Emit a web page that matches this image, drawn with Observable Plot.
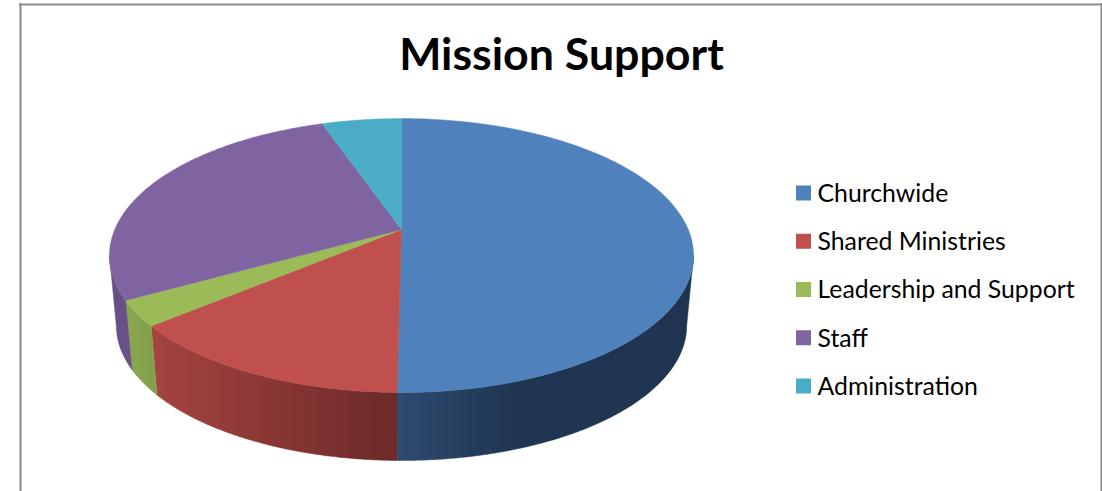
<!DOCTYPE html>
<html><head><meta charset="utf-8">
<style>html,body{margin:0;padding:0;background:#fff;overflow:hidden}svg{display:block}</style>
<script src="https://cdn.jsdelivr.net/npm/d3@7"></script>
<script src="https://cdn.jsdelivr.net/npm/@observablehq/plot@0.6"></script>
</head><body><div id="chart"></div>
<script>
const chartTitle = "Mission Support";
const categories = ["Churchwide", "Shared Ministries", "Leadership and Support", "Staff", "Administration"];
const shares = [50.2, 13.7, 3.0, 27.8, 5.3];
const colors = ["#4f81bd", "#c0504d", "#9bbb59", "#8064a2", "#4bacc6"];
const wallStops = [
  [["0", "#2e4b70"], ["0.4", "#1f3551"], ["1", "#1f3450"]],
  [["0", "#a5433f"], ["1", "#6c2a28"]],
  [["0", "#8aa650"], ["1", "#82a04b"]],
  [["0", "#654f85"], ["1", "#6a5289"]],
  [["0", "#3a8aa0"], ["1", "#3a8aa0"]]
];

// Perspective disc: top and bottom faces
const cx = 401, topFace = {y0: 229, A: 132, B: 286.7}, bottomFace = {y0: 299.5, A: 130, B: 280}, k = 0.19;
const project = (theta, f) => {
  const u = Math.sin(theta), v = -Math.cos(theta), w = 1 - k * v;
  return {x: cx + f.B * u / w, y: f.y0 + f.A * v / w};
};
// The side wall is visible between the disc's two widest points
const wallStart = Math.acos(-k), wallEnd = 2 * Math.PI - wallStart;
const total = d3.sum(shares);
let acc = 0;
const slices = categories.map((name, i) => {
  const a0 = acc / total * 2 * Math.PI;
  acc += shares[i];
  const a1 = acc / total * 2 * Math.PI;
  const sweep = (s, e) => d3.range(0, 121).map(j => s + (e - s) * j / 120);
  const apex = {x: cx, y: topFace.y0};
  const face = [apex, ...sweep(a0, a1).map(t => project(t, topFace)), apex].map(p => ({...p, name}));
  const w0 = Math.max(a0, wallStart), w1 = Math.min(a1, wallEnd);
  const wallAngles = w1 > w0 ? sweep(w0, w1) : [];
  const rim = wallAngles.map(t => project(t, topFace));
  const low = wallAngles.map(t => project(t, bottomFace)).reverse();
  const wall = rim.length ? [...rim, ...low, rim[0]] : [];
  return {name, i, face, wall};
});

const defs = () => {
  const ns = "http://www.w3.org/2000/svg";
  const g = document.createElementNS(ns, "defs");
  wallStops.forEach((stops, i) => {
    const lg = document.createElementNS(ns, "linearGradient");
    lg.setAttribute("id", "wall" + i);
    stops.forEach(([o, c]) => {
      const s = document.createElementNS(ns, "stop");
      s.setAttribute("offset", o); s.setAttribute("stop-color", c);
      lg.appendChild(s);
    });
    g.appendChild(lg);
  });
  return g;
};

const legendY = i => 193.5 + i * 48.25;
const font = "Lato, 'Open Sans', sans-serif";

const plot = Plot.plot({
  width: 1102, height: 491, margin: 0,
  x: {domain: [0, 1102], range: [0, 1102], axis: null},
  y: {domain: [0, 491], range: [0, 491], axis: null},
  color: {domain: categories, range: colors},
  style: {background: "#fff"},
  marks: [
    defs,
    Plot.ruleX([20, 1101], {y1: 3, y2: 491, stroke: "#868686", strokeWidth: 2}),
    Plot.ruleY([4], {x1: 19, x2: 1102, stroke: "#8c8c8c", strokeWidth: 2}),
    ...slices.filter(s => s.wall.length).map(s => Plot.line(s.wall, {x: "x", y: "y", fill: `url(#wall${s.i})`, stroke: `url(#wall${s.i})`, strokeWidth: 0.5})),
    ...slices.map(s => Plot.line(s.face, {x: "x", y: "y", fill: "name", stroke: "name", strokeWidth: 0.5})),
    Plot.text([chartTitle], {x: 561, y: 55, text: d => d, fontFamily: font, fontWeight: 700, fontSize: 44.7, fill: "#000", textAnchor: "middle", lineAnchor: "middle"}),
    Plot.rect(categories, {x1: 796, x2: 811, y1: (d, i) => legendY(i) - 8, y2: (d, i) => legendY(i) + 7, fill: d => d, inset: 0}),
    Plot.text(categories, {x: 817, y: (d, i) => legendY(i), text: d => d, fontFamily: font, fontSize: 24.8, fill: "#000", textAnchor: "start", lineAnchor: "middle"})
  ]
});
document.getElementById("chart").appendChild(plot);
</script></body></html>
